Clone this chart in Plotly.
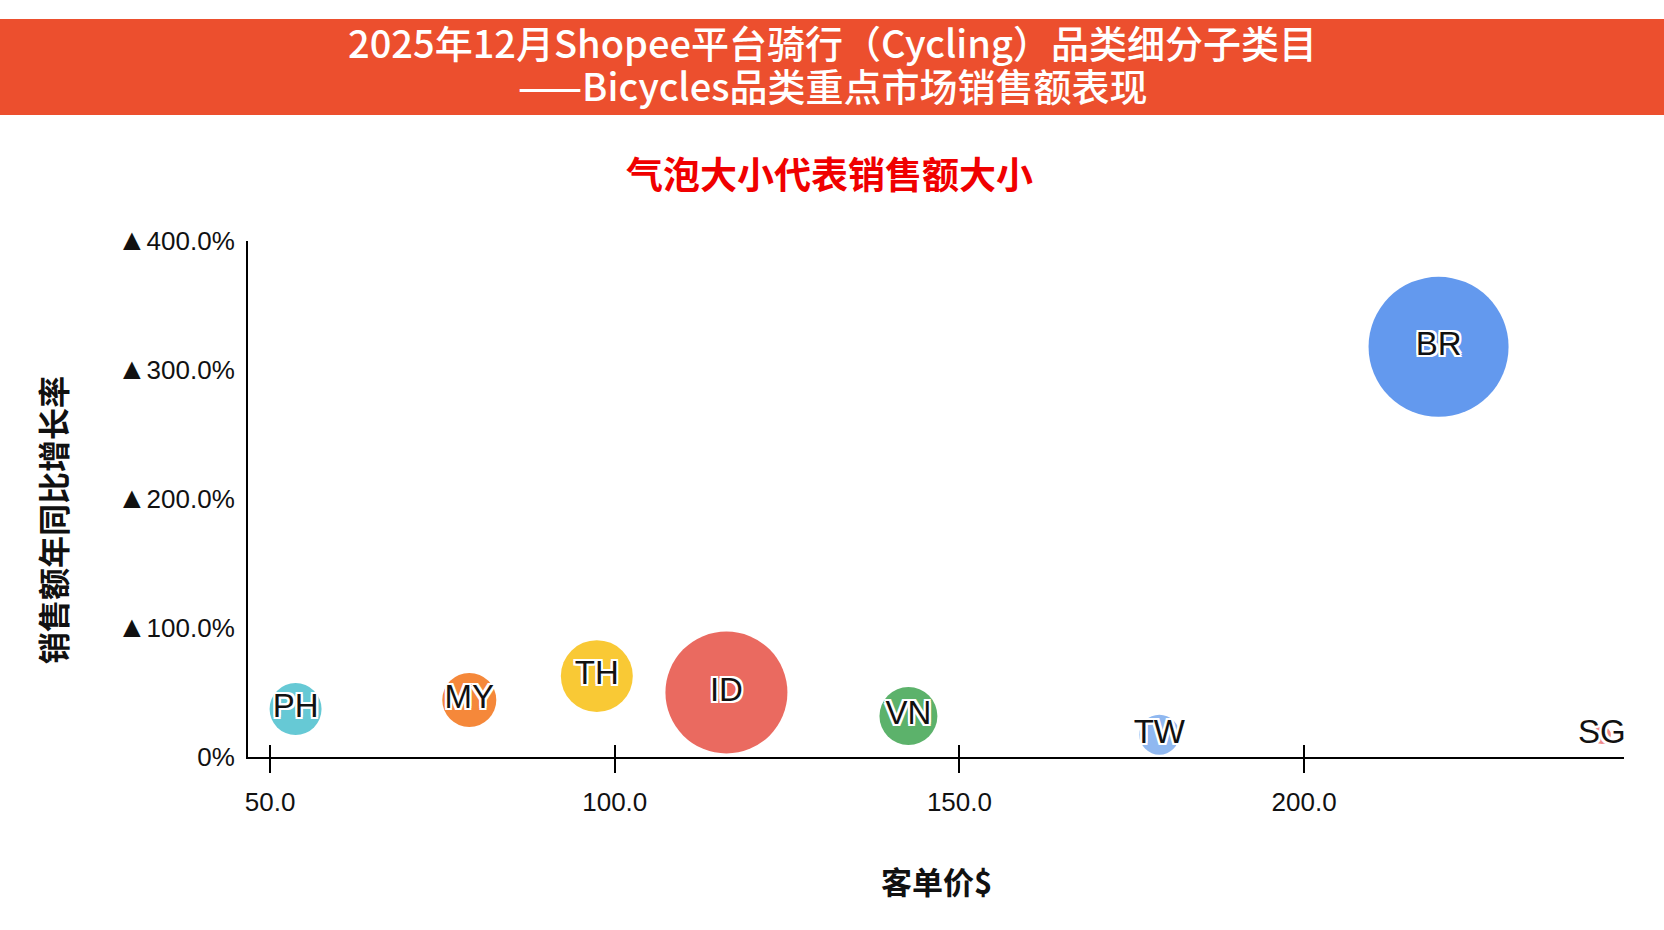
import plotly.graph_objects as go

# ---------------- data ----------------
markets = ["PH", "MY", "TH", "ID", "VN", "TW", "SG", "BR"]
avg_order_value = [53.7, 78.9, 97.4, 116.2, 142.6, 179.0, 243.2, 219.5]   # 客单价 $
yoy_growth_pct = [37.2, 44.2, 62.7, 50.0, 31.8, 17.3, 17.0, 318.0]        # 销售额年同比增长率 %
sales_value = [27.0, 29.2, 51.8, 148.8, 33.6, 16.0, 3.2, 196.0]           # 销售额 (相对, 估计)
colors = ["#66C9D5", "#F5883A", "#F9C935", "#EA6A60", "#5CB26B", "#90B8F0", "#F08A8A", "#6399EE"]

x_tickvals = [50, 100, 150, 200]
x_ticktext = ["50.0", "100.0", "150.0", "200.0"]
y_tickvals = [0, 100, 200, 300, 400]
y_ticklabels = ["0%", "100.0%", "200.0%", "300.0%", "400.0%"]

title_line1 = "2025年12月Shopee平台骑行（Cycling）品类细分子类目"
title_line2 = "——Bicycles品类重点市场销售额表现"
subtitle = "气泡大小代表销售额大小"
x_title = "客单价$"
y_title = "销售额年同比增长率"

# ---------------- layout geometry ----------------
W, H = 1664, 930
ML, MR, MT, MB = 248, 40, 241, 173
PW, PH_ = W - ML - MR, H - MT - MB


def px_x(px):
    return (px - ML) / PW


def px_y(py):  # py measured from top
    return (H - py - MB) / PH_


MAX_DIAM = 140
sizeref = 2.0 * max(sales_value) / (MAX_DIAM ** 2)

outline = ("2px 0 0 #fff, -2px 0 0 #fff, 0 2px 0 #fff, 0 -2px 0 #fff, "
           "2px 2px 0 #fff, -2px -2px 0 #fff, 2px -2px 0 #fff, -2px 2px 0 #fff")

y_ticktext = [t if v == 0 else '<span style="font-size:30px">▲</span>' + t
              for v, t in zip(y_tickvals, y_ticklabels)]

fig = go.Figure()
fig.add_trace(go.Scatter(
    x=avg_order_value, y=yoy_growth_pct, text=markets,
    mode="markers+text", textposition="middle center",
    marker=dict(size=sales_value, sizemode="area", sizeref=sizeref,
                color=colors, opacity=1, line=dict(width=0)),
    textfont=dict(family="Liberation Sans, Arial, sans-serif", size=33, color="#111",
                  shadow=outline),
    hoverinfo="text", showlegend=False, cliponaxis=False,
))
# helper trace so the overlay axis (inner half of x ticks) is drawn
fig.add_trace(go.Scatter(x=[None], y=[None], xaxis="x2", showlegend=False, hoverinfo="skip"))

XR = [46.8, 246.4]
tickfont = dict(family="Liberation Sans, Arial, sans-serif", size=26, color="#111")

fig.update_layout(
    width=W, height=H,
    margin=dict(l=ML, r=MR, t=MT, b=MB),
    paper_bgcolor="white", plot_bgcolor="white",
    xaxis=dict(range=XR, tickvals=x_tickvals, ticktext=x_ticktext,
               showgrid=False, zeroline=False, showline=True, linecolor="#000", linewidth=2,
               ticks="outside", ticklen=14, tickwidth=2, tickcolor="#000",
               tickfont=tickfont, ticklabelstandoff=7),
    xaxis2=dict(range=XR, overlaying="x", anchor="y", side="bottom",
                tickvals=x_tickvals, showticklabels=False, showgrid=False, zeroline=False,
                showline=False, ticks="inside", ticklen=12, tickwidth=2, tickcolor="#000"),
    yaxis=dict(range=[0, 400], tickvals=y_tickvals, ticktext=y_ticktext,
               showgrid=False, zeroline=False, showline=True, linecolor="#000", linewidth=2,
               ticks="", tickfont=dict(family="Liberation Sans, Arial, sans-serif", size=26, color="#111"),
               ticklabelstandoff=6),
)

# banner
fig.add_shape(type="rect", xref="paper", yref="paper",
              x0=px_x(0), x1=px_x(W), y0=px_y(115), y1=px_y(19),
              fillcolor="#EC4F2E", line=dict(width=0), layer="below")

cjk = "Noto Sans CJK SC, sans-serif"
ann = [
    dict(text=title_line1, x=px_x(832), y=px_y(41), font=dict(family=cjk, size=38, color="white", weight=500)),
    dict(text=title_line2, x=px_x(832), y=px_y(85), font=dict(family=cjk, size=38, color="white", weight=500)),
    dict(text="<b>" + subtitle + "</b>", x=px_x(829), y=px_y(173),
         font=dict(family=cjk, size=37, color="#F00000")),
    dict(text="<b>" + x_title + "</b>", x=px_x(936), y=px_y(880),
         font=dict(family=cjk, size=31, color="#111")),
    dict(text="<b>" + y_title + "</b>", x=px_x(52), y=px_y(520), textangle=-90,
         font=dict(family=cjk, size=32, color="#111")),
]
for a in ann:
    fig.add_annotation(xref="paper", yref="paper", showarrow=False,
                       xanchor="center", yanchor="middle", **a)

fig.write_html("out.html")
